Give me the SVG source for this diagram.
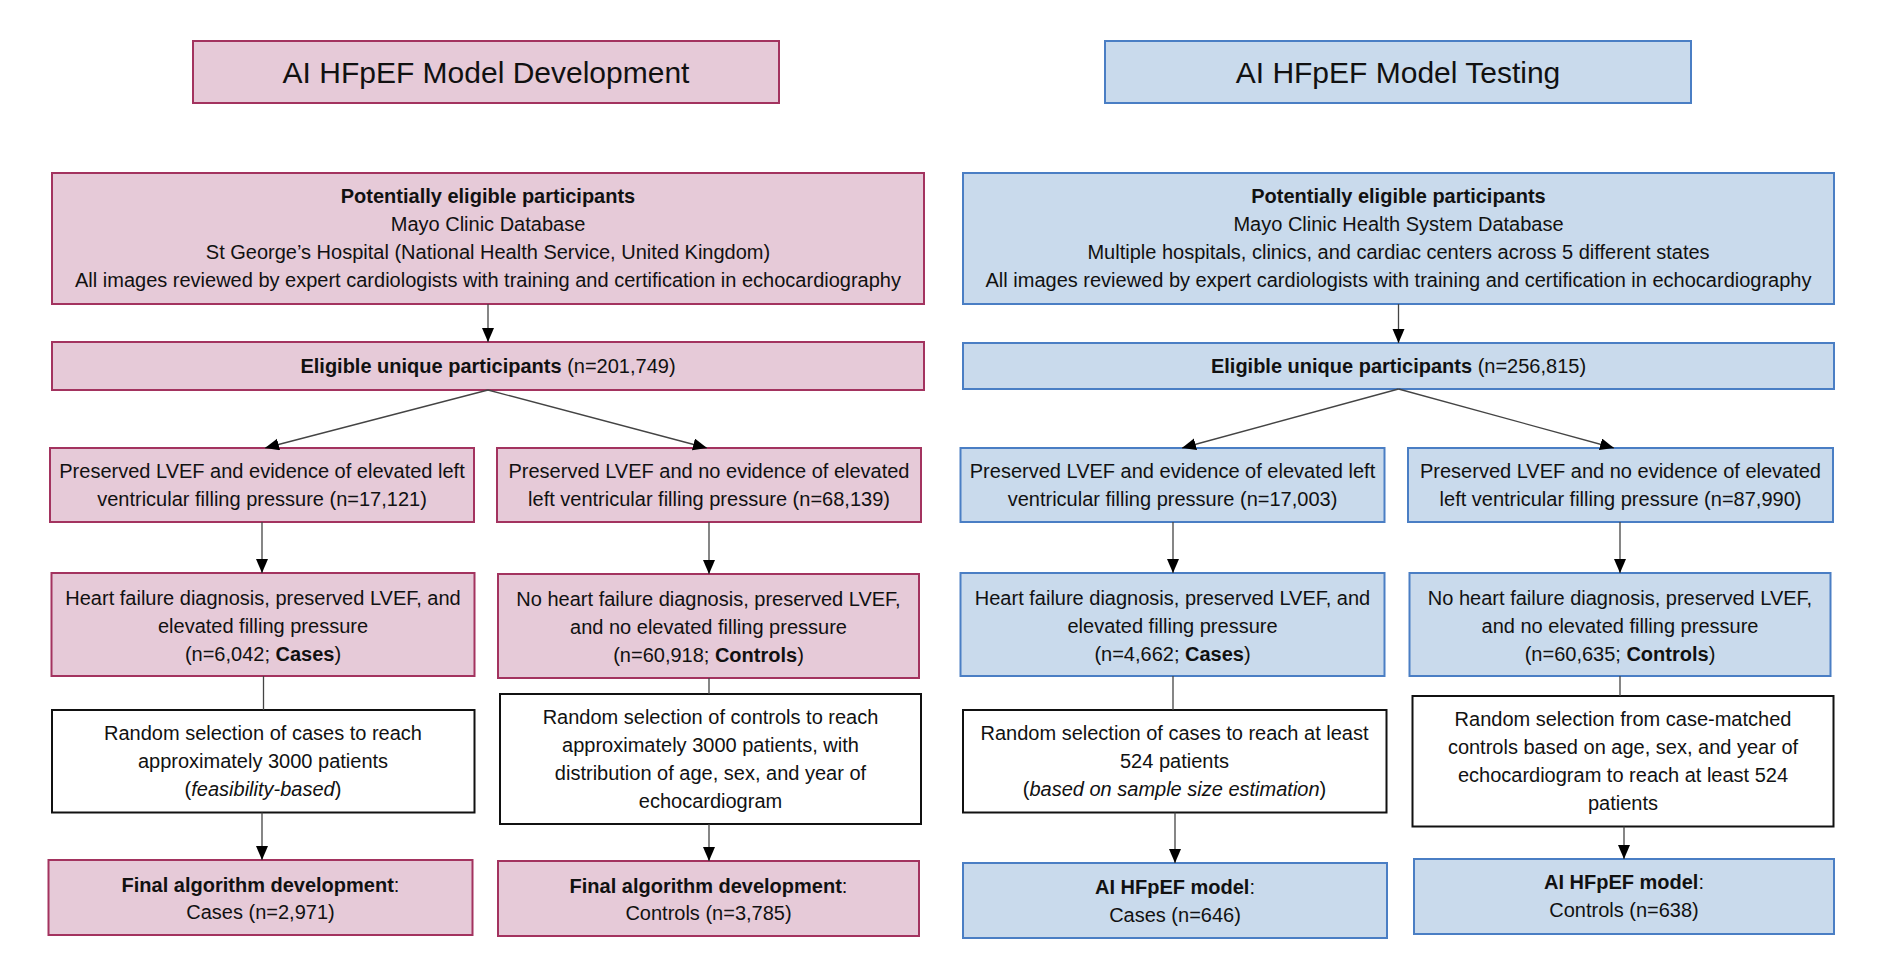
<svg xmlns="http://www.w3.org/2000/svg" width="1885" height="968" viewBox="0 0 1885 968">
<defs>
<marker id="ah" markerUnits="userSpaceOnUse" markerWidth="16" markerHeight="14" refX="14" refY="6" orient="auto">
<path d="M0,0 L14,6 L0,12 Z" fill="#000"/>
</marker>
<style>
.pk{fill:#E6CAD8;stroke:#A3335F;stroke-width:2}
.bl{fill:#C9DAEC;stroke:#4A7EC4;stroke-width:2}
.wh{fill:#FFFFFF;stroke:#111;stroke-width:2}
text{font-family:"Liberation Sans",Arial,sans-serif;font-size:20px;fill:#111;text-anchor:middle}
.tt{font-size:30px}
.b{font-weight:bold}
.i{font-style:italic}
.cn line{stroke:#444;stroke-width:1.3;fill:none}
.cn .a{marker-end:url(#ah)}
</style>
</defs>
<rect width="1885" height="968" fill="#fff"/>

<g id="title-dev"><rect class="pk" x="193" y="41" width="586" height="62"/><text class="tt" x="486" y="83">AI HFpEF Model Development</text></g>
<g id="title-test"><rect class="bl" x="1105" y="41" width="586" height="62"/><text class="tt" x="1398" y="83">AI HFpEF Model Testing</text></g>

<g id="dev-eligible-pot"><rect class="pk" x="52" y="173" width="872" height="131"/>
<text x="488" y="203" class="b">Potentially eligible participants</text>
<text x="488" y="231">Mayo Clinic Database</text>
<text x="488" y="259">St George’s Hospital (National Health Service, United Kingdom)</text>
<text x="488" y="287">All images reviewed by expert cardiologists with training and certification in echocardiography</text></g>
<g id="test-eligible-pot"><rect class="bl" x="963" y="173" width="871" height="131"/>
<text x="1398.5" y="203" class="b">Potentially eligible participants</text>
<text x="1398.5" y="231">Mayo Clinic Health System Database</text>
<text x="1398.5" y="259">Multiple hospitals, clinics, and cardiac centers across 5 different states</text>
<text x="1398.5" y="287">All images reviewed by expert cardiologists with training and certification in echocardiography</text></g>

<g id="dev-eligible"><rect class="pk" x="52" y="342" width="872" height="48"/>
<text x="488" y="373"><tspan class="b">Eligible unique participants</tspan> (n=201,749)</text></g>
<g id="test-eligible"><rect class="bl" x="963" y="343" width="871" height="46"/>
<text x="1398.5" y="373"><tspan class="b">Eligible unique participants</tspan> (n=256,815)</text></g>

<g id="dev-elev"><rect class="pk" x="50" y="448" width="424" height="74"/>
<text x="262" y="478">Preserved LVEF and evidence of elevated left</text>
<text x="262" y="506">ventricular filling pressure (n=17,121)</text></g>
<g id="dev-noelev"><rect class="pk" x="497" y="448" width="424" height="74"/>
<text x="709" y="478">Preserved LVEF and no evidence of elevated</text>
<text x="709" y="506">left ventricular filling pressure (n=68,139)</text></g>
<g id="test-elev"><rect class="bl" x="960.5" y="448" width="424" height="74"/>
<text x="1172.5" y="478">Preserved LVEF and evidence of elevated left</text>
<text x="1172.5" y="506">ventricular filling pressure (n=17,003)</text></g>
<g id="test-noelev"><rect class="bl" x="1408" y="448" width="425" height="74"/>
<text x="1620.5" y="478">Preserved LVEF and no evidence of elevated</text>
<text x="1620.5" y="506">left ventricular filling pressure (n=87,990)</text></g>

<g id="dev-cases"><rect class="pk" x="51.5" y="573" width="423" height="103"/>
<text x="263" y="605">Heart failure diagnosis, preserved LVEF, and</text>
<text x="263" y="633">elevated filling pressure</text>
<text x="263" y="661">(n=6,042; <tspan class="b">Cases</tspan>)</text></g>
<g id="dev-controls"><rect class="pk" x="498" y="574" width="421" height="104"/>
<text x="708.5" y="606">No heart failure diagnosis, preserved LVEF,</text>
<text x="708.5" y="634">and no elevated filling pressure</text>
<text x="708.5" y="662">(n=60,918; <tspan class="b">Controls</tspan>)</text></g>
<g id="test-cases"><rect class="bl" x="960.5" y="573" width="424" height="103"/>
<text x="1172.5" y="605">Heart failure diagnosis, preserved LVEF, and</text>
<text x="1172.5" y="633">elevated filling pressure</text>
<text x="1172.5" y="661">(n=4,662; <tspan class="b">Cases</tspan>)</text></g>
<g id="test-controls"><rect class="bl" x="1409.5" y="573" width="421" height="103"/>
<text x="1620" y="605">No heart failure diagnosis, preserved LVEF,</text>
<text x="1620" y="633">and no elevated filling pressure</text>
<text x="1620" y="661">(n=60,635; <tspan class="b">Controls</tspan>)</text></g>

<g id="dev-rand-cases"><rect class="wh" x="52" y="710" width="422.5" height="102.5"/>
<text x="263" y="740">Random selection of cases to reach</text>
<text x="263" y="768">approximately 3000 patients</text>
<text x="263" y="796">(<tspan class="i">feasibility-based</tspan>)</text></g>
<g id="dev-rand-controls"><rect class="wh" x="500" y="694" width="421" height="130"/>
<text x="710.5" y="724">Random selection of controls to reach</text>
<text x="710.5" y="752">approximately 3000 patients, with</text>
<text x="710.5" y="780">distribution of age, sex, and year of</text>
<text x="710.5" y="808">echocardiogram</text></g>
<g id="test-rand-cases"><rect class="wh" x="963" y="710" width="423.5" height="102.5"/>
<text x="1174.5" y="740">Random selection of cases to reach at least</text>
<text x="1174.5" y="768">524 patients</text>
<text x="1174.5" y="796">(<tspan class="i">based on sample size estimation</tspan>)</text></g>
<g id="test-rand-controls"><rect class="wh" x="1412.5" y="696" width="421" height="130.5"/>
<text x="1623" y="726">Random selection from case-matched</text>
<text x="1623" y="754">controls based on age, sex, and year of</text>
<text x="1623" y="782">echocardiogram to reach at least 524</text>
<text x="1623" y="810">patients</text></g>

<g id="dev-final-cases"><rect class="pk" x="48.5" y="860" width="424" height="75"/>
<text x="260.5" y="892"><tspan class="b">Final algorithm development</tspan>:</text>
<text x="260.5" y="919">Cases (n=2,971)</text></g>
<g id="dev-final-controls"><rect class="pk" x="498" y="861" width="421" height="75"/>
<text x="708.5" y="893"><tspan class="b">Final algorithm development</tspan>:</text>
<text x="708.5" y="920">Controls (n=3,785)</text></g>
<g id="test-final-cases"><rect class="bl" x="963" y="863" width="424" height="75"/>
<text x="1175" y="894"><tspan class="b">AI HFpEF model</tspan>:</text>
<text x="1175" y="922">Cases (n=646)</text></g>
<g id="test-final-controls"><rect class="bl" x="1414" y="859" width="420" height="75"/>
<text x="1624" y="889"><tspan class="b">AI HFpEF model</tspan>:</text>
<text x="1624" y="917">Controls (n=638)</text></g>

<g id="connectors" class="cn">
<line class="a" x1="488" y1="304" x2="488" y2="342"/>
<line class="a" x1="1398.5" y1="304" x2="1398.5" y2="343"/>
<line class="a" x1="488" y1="390" x2="265" y2="448"/>
<line class="a" x1="488" y1="390" x2="707" y2="448"/>
<line class="a" x1="1398.5" y1="389" x2="1182" y2="448"/>
<line class="a" x1="1398.5" y1="389" x2="1614" y2="448"/>
<line class="a" x1="262" y1="522" x2="262" y2="573"/>
<line class="a" x1="709" y1="522" x2="709" y2="574"/>
<line class="a" x1="1173" y1="522" x2="1173" y2="573"/>
<line class="a" x1="1620" y1="522" x2="1620" y2="573"/>
<line x1="263.5" y1="676" x2="263.5" y2="710"/>
<line x1="709" y1="678" x2="709" y2="694"/>
<line x1="1173" y1="676" x2="1173" y2="710"/>
<line x1="1620" y1="676" x2="1620" y2="696"/>
<line class="a" x1="262" y1="812.5" x2="262" y2="860"/>
<line class="a" x1="709" y1="824" x2="709" y2="861"/>
<line class="a" x1="1175" y1="812.5" x2="1175" y2="863"/>
<line class="a" x1="1624" y1="826.5" x2="1624" y2="859"/>
</g>
</svg>
